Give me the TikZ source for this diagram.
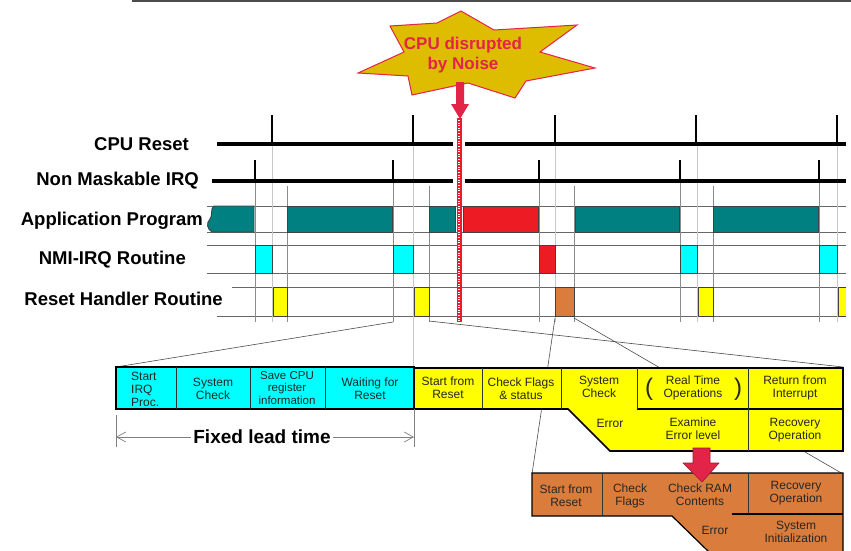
\documentclass[tikz,border=0pt]{standalone}
\usepackage{fontspec}
\setmainfont{Liberation Sans}
\usetikzlibrary{arrows.meta}
\definecolor{tealx}{RGB}{0,128,128}
\definecolor{cyanx}{RGB}{0,255,255}
\definecolor{yelx}{RGB}{255,255,0}
\definecolor{redx}{RGB}{237,28,36}
\definecolor{orgx}{RGB}{218,125,60}
\definecolor{goldx}{RGB}{222,188,0}
\definecolor{crimx}{RGB}{226,36,72}
\begin{document}
\begin{tikzpicture}[x=1pt,y=-1pt,
  rowlabel/.style={anchor=east,inner sep=0,font=\fontsize{18.5}{20}\selectfont\bfseries},
  rowline/.style={draw=black!60,line width=0.7pt},
  guide/.style={draw=black!45,line width=0.8pt},
  lguide/.style={draw=black!22,line width=0.9pt},
  tbox/.style={draw=black!75,line width=0.9pt},
  proj/.style={draw=black!70,line width=0.6pt},
  cell/.style={align=center,inner sep=0,text=black!85,font=\fontsize{12}{13}\selectfont},
  outl/.style={draw=black,line width=1.6pt,line join=miter},
  divl/.style={draw=black!80,line width=0.8pt}
]
\useasboundingbox (0,0) rectangle (851,550);

% top rule
\draw[black!70,line width=1.5pt] (132,1) -- (851,1);

% ---------- coordinates for projection lines ----------
\coordinate (nmiB) at (393,322);
\coordinate (cyTL) at (116,367);
\coordinate (rsB) at (429,321);
\coordinate (yeTR) at (843,367);
\coordinate (orL) at (555,318);
\coordinate (obTL) at (532,474);
\coordinate (orR) at (574,318);
\coordinate (obTR) at (843,474);
\coordinate (g413a) at (413,144);
\coordinate (g413b) at (413,367);

% ---------- row lines ----------
\draw[rowline] (207,206) -- (846,206);
\draw[rowline] (207,232) -- (846,232);
\draw[rowline] (207,245) -- (846,245);
\draw[rowline] (207,273) -- (846,273);
\draw[rowline] (232,287) -- (846,287);
\draw[rowline] (217,316) -- (846,316);

% ---------- guides ----------
\foreach \x in {255,393,539,680,819} \draw[guide] (\x,181) -- (\x,322);
\foreach \x in {272,555,697,837} \draw[lguide] (\x,144) -- (\x,322);
\draw[lguide] (g413a) -- (g413b);
\foreach \x in {287,429,574,713} \draw[guide] (\x,186) -- (\x,322);

% projection lines
\draw[proj] (nmiB) -- (cyTL);
\draw[proj] (rsB) -- (yeTR);
\draw[proj] (orL) -- (obTL);
\draw[proj] (orR) -- (obTR);

% ---------- signal lines ----------
\draw[line width=3.6pt] (217,144) -- (453,144);
\draw[line width=3.6pt] (465,144) -- (846,144);
\foreach \x in {272,413,555,696,837} \draw[line width=1.6pt] (\x,115) -- (\x,144);
\draw[line width=3.2pt] (212,181) -- (453,181);
\draw[line width=3.2pt] (465,181) -- (846,181);
\foreach \x in {255,393,539,680,819} \draw[line width=1.6pt] (\x,160) -- (\x,181);

% ---------- application boxes ----------
\draw[tbox,fill=tealx] (214,206) -- (254,206) -- (254,232) -- (212,232)
   .. controls (207,229) and (206,223) .. (210,219)
   .. controls (213,216) and (210,208) .. cycle;
\draw[tbox,fill=tealx] (287,206) rectangle (392,232);
\draw[tbox,fill=tealx] (429,206) rectangle (455,232);
\draw[tbox,fill=redx] (463,206) rectangle (538,232);
\draw[tbox,fill=tealx] (575,206) rectangle (679,232);
\draw[tbox,fill=tealx] (713,206) rectangle (818,232);

% ---------- NMI boxes ----------
\draw[tbox,fill=cyanx] (255,245) rectangle (272,273);
\draw[tbox,fill=cyanx] (393,245) rectangle (413,273);
\draw[tbox,fill=redx] (539,245) rectangle (555,273);
\draw[tbox,fill=cyanx] (680,245) rectangle (697,273);
\draw[tbox,fill=cyanx] (819,245) rectangle (837,273);

% ---------- reset handler boxes ----------
\draw[tbox,fill=yelx] (273,287) rectangle (287,316);
\draw[tbox,fill=yelx] (414,287) rectangle (429,316);
\draw[tbox,fill=orgx] (555,287) rectangle (574,316);
\draw[tbox,fill=yelx] (698,287) rectangle (713,316);
\fill[yelx] (838,287) rectangle (846,316);
\draw[tbox] (846,287) -- (838,287) -- (838,316) -- (846,316);

% ---------- noise line ----------
\draw[redx,line width=5pt] (459,118) -- (459,322);
\draw[white,line width=1.1pt,dash pattern=on 1pt off 1.6pt] (459,120) -- (459,321);

% ---------- star ----------
\draw[fill=goldx,draw=crimx,line width=1pt,line join=miter]
  (461,11) -- (494,30) -- (577,25) -- (540,52) -- (595,68) -- (526,81) -- (515,98)
  -- (468,83) -- (412,95) -- (408,76) -- (358,73) -- (404,52) -- (390,26) -- (437,23) -- cycle;
\node[text=crimx,font=\fontsize{17}{20.5}\selectfont\bfseries,align=center,inner sep=0] (startxt) at (463,55) {CPU disrupted\\by Noise};
\fill[crimx] (456,82) -- (464,82) -- (464,104) -- (469,104) -- (460,119) -- (451,104) -- (456,104) -- cycle;

% ---------- row labels ----------
\node[rowlabel] (lcpu) at (189,144) {CPU Reset};
\node[rowlabel] (lnmi) at (199,181) {Non Maskable IRQ};
\node[rowlabel] (lapp) at (203,221) {Application Program};
\node[rowlabel] (lnir) at (186,260) {NMI-IRQ Routine};
\node[rowlabel] (lrhr) at (223,299) {Reset Handler Routine};

% ---------- cyan detail box ----------
\draw[outl,fill=cyanx] (116,367) rectangle (414,409);
\foreach \x in {176,250,325} \draw[divl] (\x,367) -- (\x,409);
\node[cell,align=left,anchor=west] (c1) at (131,389) {Start\\IRQ\\Proc.};
\node[cell] (c2) at (213,389) {System\\Check};
\node[cell,font=\fontsize{11.5}{12.3}\selectfont] (c3) at (287,388) {Save CPU\\register\\information};
\node[cell] (c4) at (370,389) {Waiting for\\Reset};

% ---------- yellow detail box ----------
\draw[outl,fill=yelx] (414,368) -- (843,368) -- (843,451) -- (610,451) -- (568,409) -- (414,409) -- cycle;
\draw[outl] (637,409) -- (843,409);
\foreach \x in {482,561,637} \draw[divl] (\x,368) -- (\x,409);
\draw[divl] (748,368) -- (748,451);
\node[cell] (y1) at (448,388) {Start from\\Reset};
\node[cell] (y2) at (521,389) {Check Flags\\\& status};
\node[cell] (y3) at (599,387) {System\\Check};
\node[cell] (y4) at (693,388) {Real Time\\Operations};
\node[cell,font=\fontsize{24}{24}\selectfont] (yp1) at (649,389) {(};
\node[cell,font=\fontsize{24}{24}\selectfont] (yp2) at (738,389) {)};
\node[cell] (y5) at (795,388) {Return from\\Interrupt};
\node[cell] (y6) at (610,423) {Error};
\node[cell] (y7) at (693,429) {Examine\\Error level};
\node[cell] (y8) at (795,430) {Recovery\\Operation};

% ---------- fixed lead time ----------
\draw[black!50,line width=0.8pt] (116,415) -- (116,447);
\draw[black!50,line width=0.8pt] (414,409) -- (414,447);
\coordinate (fltL) at (116,437);
\coordinate (fltR) at (414,437);
\draw[black!50,line width=0.7pt,{Straight Barb[length=9pt,width=10pt]}-{Straight Barb[length=9pt,width=10pt]}] (fltL) -- (fltR);
\node[fill=white,inner sep=2pt,font=\fontsize{19}{20}\selectfont\bfseries] (flt) at (262,437) {Fixed lead time};

% ---------- orange detail box ----------
\draw[outl,line width=1.2pt,fill=orgx] (532,473) -- (843,473) -- (843,553) -- (710,553) -- (672,516) -- (532,516) -- cycle;
\draw[divl] (602,473) -- (602,516);
\draw[divl] (748,473) -- (748,514);
\draw[outl,line width=1.2pt] (732,514) -- (843,514);
\node[cell] (o1) at (566,496) {Start from\\Reset};
\node[cell] (o2) at (630,496) {Check\\Flags};
\node[cell] (o3) at (700,495) {Check RAM\\Contents};
\node[cell] (o4) at (796,493) {Recovery\\Operation};
\node[cell] (o5) at (715,530) {Error};
\node[cell] (o6) at (796,532) {System\\Initialization};

% ---------- big red arrow ----------
\draw[fill=crimx,draw=crimx!70!black,line width=0.6pt,line join=miter]
  (693,448) -- (710,448) -- (710,463) -- (719,463) -- (702,482) -- (683,463) -- (693,463) -- cycle;
\end{tikzpicture}
\end{document}
